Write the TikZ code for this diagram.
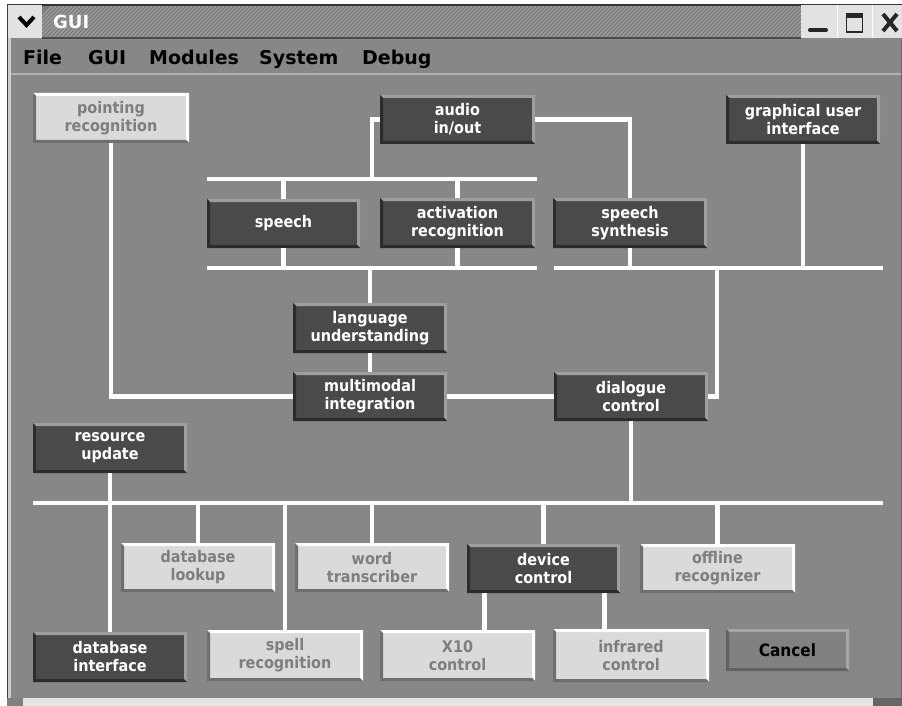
\documentclass[tikz,border=0pt]{standalone}
\usepackage{fontspec}
\setmainfont{DejaVu Sans Condensed}
\newfontfamily\menufont{DejaVu Sans}
\definecolor{panel}{HTML}{878787}
\definecolor{darkfill}{HTML}{4A4A4A}
\definecolor{darklite}{HTML}{9E9E9E}
\definecolor{darkshade}{HTML}{2C2C2C}
\definecolor{litefill}{HTML}{DADADA}
\definecolor{litetext}{HTML}{7E7E7E}
\definecolor{liteshade}{HTML}{6E6E6E}
\definecolor{barbase}{HTML}{7C7C7C}
\definecolor{barstripe}{HTML}{9C9C9C}
\definecolor{chrome}{HTML}{E2E2E2}
\definecolor{btnfill}{HTML}{818181}
\newcommand\modbevel[3]{%
  \fill[#2] (#1.north west) -- (#1.north east) -- (#1.south east)
    -- ([shift={(-3pt,3pt)}]#1.south east) -- ([shift={(-3pt,-3pt)}]#1.north east)
    -- ([shift={(3pt,-3pt)}]#1.north west) -- cycle;
  \fill[#3] (#1.north west) -- ([shift={(3pt,-3pt)}]#1.north west)
    -- ([shift={(3pt,3pt)}]#1.south west) -- ([shift={(-3pt,3pt)}]#1.south east)
    -- (#1.south east) -- (#1.south west) -- cycle;}
\begin{document}
\begin{tikzpicture}[x=1pt,y=-1pt,
  boxat/.style n args={4}{minimum width={(#3-#1)*1pt}, minimum height={(#4-#2)*1pt},
    at={(#1/2+#3/2,#2/2+#4/2)}},
  module/.style={inner sep=0pt, outer sep=0pt, align=center,
    font=\fontsize{16}{18}\selectfont\bfseries},
  darkbox/.style={module, fill=darkfill, text=white},
  litebox/.style={module, fill=litefill, text=litetext},
  wire/.style={draw=white, line width=4.5pt},
  menuitem/.style={anchor=base west, inner sep=0pt, text=black,
    font=\menufont\fontsize{19}{22}\selectfont\bfseries}]
% page and window frame
\useasboundingbox (0,0) rectangle (902,706);
\fill[white] (0,0) rectangle (902,706);
\fill[panel] (7,38) rectangle (902,698);
% title bar with diagonal hatching
\fill[barbase] (42,5) rectangle (801,38);
\begin{scope}
  \clip (42,5) rectangle (801,38);
  \foreach \x in {20,24,...,820}
    \draw[barstripe, line width=1.3pt] (\x,38) -- (\x+33,5);
\end{scope}
\draw[black!80, line width=1.5pt] (7,5) -- (902,5);
\draw[black!70, line width=1.2pt] (42,38) -- (801,38);
\fill[chrome] (7,5) rectangle (42,38);
\draw[black, line width=4pt, line join=miter] (19,17) -- (26.5,25) -- (34,17);
\node[anchor=base west, inner sep=0pt, text=white,
  font=\menufont\fontsize{18}{20}\selectfont\bfseries] (title) at (53,29) {GUI};
% window buttons
\fill[chrome] (801,5) rectangle (902,38);
\draw[white, line width=1pt] (837,5) -- (837,38) (872,5) -- (872,38);
\draw[black!85, line width=4pt, line cap=round] (810,30) -- (826,30);
\draw[black!85, line width=1.6pt] (846.5,14) rectangle (862.5,32);
\fill[black!85] (846,13.5) rectangle (863,18.5);
\draw[black!85, line width=4pt] (883,14) -- (897,31) (897,14) -- (883,31);
% menu bar
\node[menuitem] (mfile) at (23,65) {File};
\node[menuitem] (mgui) at (88,65) {GUI};
\node[menuitem] (mmod) at (149,65) {Modules};
\node[menuitem] (msys) at (259,65) {System};
\node[menuitem] (mdbg) at (362,65) {Debug};
\draw[black!30, line width=1.5pt] (11,74) -- (902,74);
% window edges
\fill[black!20] (7,38) rectangle (11,698);
\draw[black!75, line width=1pt] (7,5) -- (7,706);
\fill[black!10] (23,698) rectangle (873,706);
\fill[black!50] (7,698) rectangle (23,706);
\fill[black!60] (873,698) rectangle (902,706);
\draw[black!60, line width=1pt] (901,38) -- (901,698);

% modules
\node[litebox, boxat={33}{93}{189}{143}] (point) {pointing\\recognition};
\node[darkbox, boxat={380}{95}{535}{144}] (audio) {audio\\in/out};
\node[darkbox, boxat={726}{95}{880}{144}] (gui) {graphical user\\interface};
\node[darkbox, boxat={207}{199}{360}{248}] (speech) {speech};
\node[darkbox, boxat={380}{198}{535}{248}] (act) {activation\\recognition};
\node[darkbox, boxat={553}{198}{707}{248}] (synth) {speech\\synthesis};
\node[darkbox, boxat={293}{303}{447}{353}] (lang) {language\\understanding};
\node[darkbox, boxat={293}{372}{447}{421}] (multi) {multimodal\\integration};
\node[darkbox, boxat={554}{372}{708}{421}] (dialog) {dialogue\\control};
\node[darkbox, boxat={33}{423}{187}{473}] (res) {resource\\update};
\node[litebox, boxat={121}{543}{275}{592}] (lookup) {database\\lookup};
\node[litebox, boxat={295}{543}{449}{592}] (word) {word\\transcriber};
\node[darkbox, boxat={467}{544}{620}{593}] (device) {device\\control};
\node[litebox, boxat={640}{544}{795}{593}] (offline) {offline\\recognizer};
\node[darkbox, boxat={33}{632}{187}{682}] (dbi) {database\\interface};
\node[litebox, boxat={207}{630}{363}{681}] (spell) {spell\\recognition};
\node[litebox, boxat={380}{630}{535}{681}] (x10) {X10\\control};
\node[litebox, boxat={553}{629}{709}{682}] (infra) {infrared\\control};
\node[module, fill=btnfill, text=black, boxat={726}{629}{849}{671},
  font=\fontsize{17}{20}\selectfont\bfseries] (cancel) {Cancel};

% bevelled edges
\foreach \n in {audio,gui,speech,act,synth,lang,multi,dialog,res,device,dbi}
  \modbevel{\n}{darklite}{darkshade};
\foreach \n in {point,lookup,word,offline,spell,x10,infra}
  \modbevel{\n}{white}{liteshade};
\modbevel{cancel}{black!35}{black!62};

% buses
\coordinate (b1l) at (207,179); \coordinate (b1r) at (537,179);
\coordinate (b2l) at (207,268); \coordinate (b2r) at (537,268);
\coordinate (b3l) at (554,268); \coordinate (b3r) at (883,268);
\coordinate (b4l) at (33,503);  \coordinate (b4r) at (883,503);
\coordinate (aj) at (372,179);
\coordinate (b3j) at (717,268);
\draw[wire] (b1l) -- (b1r);
\draw[wire] (b2l) -- (b2r);
\draw[wire] (b3l) -- (b3r);
\draw[wire] (b4l) -- (b4r);

% connectors
\draw[wire] (audio.west) -| (aj);
\draw[wire] (audio.east) -| (synth.north);
\draw[wire] (speech.north) -- (speech.north |- b1l);
\draw[wire] (act.north) -- (act.north |- b1l);
\draw[wire] (speech.south) -- (speech.south |- b2l);
\draw[wire] (act.south) -- (act.south |- b2l);
\draw[wire] (lang.north |- b2l) -- (lang.north);
\draw[wire] (lang.south) -- (multi.north);
\draw[wire] (synth.south) -- (synth.south |- b3l);
\draw[wire] (gui.south) -- (gui.south |- b3l);
\draw[wire] (b3j) |- (dialog.east);
\draw[wire] (point.south) |- (multi.west);
\draw[wire] (multi.east) -- (dialog.west);
\draw[wire] (dialog.south) -- (dialog.south |- b4l);
\draw[wire] (res.south) -- (dbi.north);
\foreach \n in {lookup,word,device,offline,spell}
  \draw[wire] (\n.north) -- (\n.north |- b4l);
\coordinate (xt) at ([xshift=-59pt]device.south);
\coordinate (it) at ([xshift=61pt]device.south);
\draw[wire] (xt) -- (xt |- x10.north);
\draw[wire] (it) -- (it |- infra.north);
\end{tikzpicture}
\end{document}
